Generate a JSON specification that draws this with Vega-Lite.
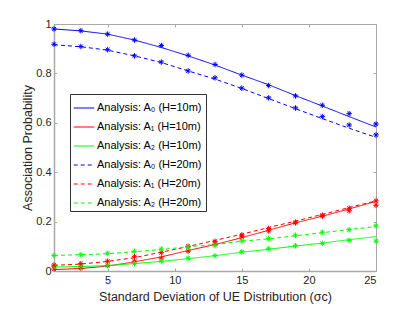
{
  "$schema": "https://vega.github.io/schema/vega-lite/v6.json",
  "autosize": {"type": "none"},
  "width": 322,
  "height": 247,
  "padding": {"left": 54, "top": 24, "right": 39, "bottom": 41},
  "background": "white",
  "config": {
    "view": {"stroke": "#a8a8a8", "strokeWidth": 1},
    "font": "Liberation Sans",
    "axis": {
      "grid": false,
      "domainColor": "#a8a8a8",
      "domainWidth": 1.5,
      "tickColor": "#a8a8a8",
      "tickSize": -3,
      "labelPadding": 6,
      "labelFont": "Liberation Sans",
      "labelFontSize": 11,
      "labelColor": "#262626",
      "titleFont": "Liberation Sans",
      "titleFontSize": 12.5,
      "titleFontWeight": "normal",
      "titleColor": "#262626"
    },
    "legend": {
      "orient": "none",
      "legendX": 16,
      "legendY": 70,
      "fillColor": "white",
      "strokeColor": "#333333",
      "padding": 3,
      "symbolType": "stroke",
      "symbolSize": 420,
      "symbolStrokeWidth": 1.2,
      "rowPadding": 3,
      "labelFont": "Liberation Sans",
      "labelFontSize": 11,
      "labelColor": "#000000",
      "labelOffset": 2
    }
  },
  "datasets": {
    "lines": [
      {"x": 1, "s": "Analysis: A₀ (H=10m)", "p": 0.980},
      {"x": 3, "s": "Analysis: A₀ (H=10m)", "p": 0.972},
      {"x": 5, "s": "Analysis: A₀ (H=10m)", "p": 0.959},
      {"x": 7, "s": "Analysis: A₀ (H=10m)", "p": 0.935},
      {"x": 9, "s": "Analysis: A₀ (H=10m)", "p": 0.905},
      {"x": 11, "s": "Analysis: A₀ (H=10m)", "p": 0.871},
      {"x": 13, "s": "Analysis: A₀ (H=10m)", "p": 0.834},
      {"x": 15, "s": "Analysis: A₀ (H=10m)", "p": 0.793},
      {"x": 17, "s": "Analysis: A₀ (H=10m)", "p": 0.754},
      {"x": 19, "s": "Analysis: A₀ (H=10m)", "p": 0.710},
      {"x": 21, "s": "Analysis: A₀ (H=10m)", "p": 0.668},
      {"x": 23, "s": "Analysis: A₀ (H=10m)", "p": 0.625},
      {"x": 25, "s": "Analysis: A₀ (H=10m)", "p": 0.583},
      {"x": 1, "s": "Analysis: A₁ (H=10m)", "p": 0.006},
      {"x": 3, "s": "Analysis: A₁ (H=10m)", "p": 0.010},
      {"x": 5, "s": "Analysis: A₁ (H=10m)", "p": 0.020},
      {"x": 7, "s": "Analysis: A₁ (H=10m)", "p": 0.037},
      {"x": 9, "s": "Analysis: A₁ (H=10m)", "p": 0.057},
      {"x": 11, "s": "Analysis: A₁ (H=10m)", "p": 0.083},
      {"x": 13, "s": "Analysis: A₁ (H=10m)", "p": 0.107},
      {"x": 15, "s": "Analysis: A₁ (H=10m)", "p": 0.135},
      {"x": 17, "s": "Analysis: A₁ (H=10m)", "p": 0.165},
      {"x": 19, "s": "Analysis: A₁ (H=10m)", "p": 0.195},
      {"x": 21, "s": "Analysis: A₁ (H=10m)", "p": 0.222},
      {"x": 23, "s": "Analysis: A₁ (H=10m)", "p": 0.251},
      {"x": 25, "s": "Analysis: A₁ (H=10m)", "p": 0.282},
      {"x": 1, "s": "Analysis: A₂ (H=10m)", "p": 0.016},
      {"x": 3, "s": "Analysis: A₂ (H=10m)", "p": 0.018},
      {"x": 5, "s": "Analysis: A₂ (H=10m)", "p": 0.022},
      {"x": 7, "s": "Analysis: A₂ (H=10m)", "p": 0.030},
      {"x": 9, "s": "Analysis: A₂ (H=10m)", "p": 0.039},
      {"x": 11, "s": "Analysis: A₂ (H=10m)", "p": 0.050},
      {"x": 13, "s": "Analysis: A₂ (H=10m)", "p": 0.062},
      {"x": 15, "s": "Analysis: A₂ (H=10m)", "p": 0.076},
      {"x": 17, "s": "Analysis: A₂ (H=10m)", "p": 0.088},
      {"x": 19, "s": "Analysis: A₂ (H=10m)", "p": 0.101},
      {"x": 21, "s": "Analysis: A₂ (H=10m)", "p": 0.113},
      {"x": 23, "s": "Analysis: A₂ (H=10m)", "p": 0.127},
      {"x": 25, "s": "Analysis: A₂ (H=10m)", "p": 0.139},
      {"x": 1, "s": "Analysis: A₀ (H=20m)", "p": 0.916},
      {"x": 3, "s": "Analysis: A₀ (H=20m)", "p": 0.908},
      {"x": 5, "s": "Analysis: A₀ (H=20m)", "p": 0.894},
      {"x": 7, "s": "Analysis: A₀ (H=20m)", "p": 0.871},
      {"x": 9, "s": "Analysis: A₀ (H=20m)", "p": 0.844},
      {"x": 11, "s": "Analysis: A₀ (H=20m)", "p": 0.810},
      {"x": 13, "s": "Analysis: A₀ (H=20m)", "p": 0.777},
      {"x": 15, "s": "Analysis: A₀ (H=20m)", "p": 0.739},
      {"x": 17, "s": "Analysis: A₀ (H=20m)", "p": 0.698},
      {"x": 19, "s": "Analysis: A₀ (H=20m)", "p": 0.657},
      {"x": 21, "s": "Analysis: A₀ (H=20m)", "p": 0.617},
      {"x": 23, "s": "Analysis: A₀ (H=20m)", "p": 0.578},
      {"x": 25, "s": "Analysis: A₀ (H=20m)", "p": 0.541},
      {"x": 1, "s": "Analysis: A₁ (H=20m)", "p": 0.023},
      {"x": 3, "s": "Analysis: A₁ (H=20m)", "p": 0.028},
      {"x": 5, "s": "Analysis: A₁ (H=20m)", "p": 0.039},
      {"x": 7, "s": "Analysis: A₁ (H=20m)", "p": 0.054},
      {"x": 9, "s": "Analysis: A₁ (H=20m)", "p": 0.076},
      {"x": 11, "s": "Analysis: A₁ (H=20m)", "p": 0.099},
      {"x": 13, "s": "Analysis: A₁ (H=20m)", "p": 0.124},
      {"x": 15, "s": "Analysis: A₁ (H=20m)", "p": 0.149},
      {"x": 17, "s": "Analysis: A₁ (H=20m)", "p": 0.176},
      {"x": 19, "s": "Analysis: A₁ (H=20m)", "p": 0.202},
      {"x": 21, "s": "Analysis: A₁ (H=20m)", "p": 0.229},
      {"x": 23, "s": "Analysis: A₁ (H=20m)", "p": 0.257},
      {"x": 25, "s": "Analysis: A₁ (H=20m)", "p": 0.284},
      {"x": 1, "s": "Analysis: A₂ (H=20m)", "p": 0.063},
      {"x": 3, "s": "Analysis: A₂ (H=20m)", "p": 0.066},
      {"x": 5, "s": "Analysis: A₂ (H=20m)", "p": 0.070},
      {"x": 7, "s": "Analysis: A₂ (H=20m)", "p": 0.078},
      {"x": 9, "s": "Analysis: A₂ (H=20m)", "p": 0.087},
      {"x": 11, "s": "Analysis: A₂ (H=20m)", "p": 0.098},
      {"x": 13, "s": "Analysis: A₂ (H=20m)", "p": 0.107},
      {"x": 15, "s": "Analysis: A₂ (H=20m)", "p": 0.121},
      {"x": 17, "s": "Analysis: A₂ (H=20m)", "p": 0.130},
      {"x": 19, "s": "Analysis: A₂ (H=20m)", "p": 0.143},
      {"x": 21, "s": "Analysis: A₂ (H=20m)", "p": 0.155},
      {"x": 23, "s": "Analysis: A₂ (H=20m)", "p": 0.168},
      {"x": 25, "s": "Analysis: A₂ (H=20m)", "p": 0.180}
    ],
    "sim": [
      {"x": 1, "s": "Analysis: A₀ (H=10m)", "p": 0.980},
      {"x": 3, "s": "Analysis: A₀ (H=10m)", "p": 0.973},
      {"x": 5, "s": "Analysis: A₀ (H=10m)", "p": 0.959},
      {"x": 7, "s": "Analysis: A₀ (H=10m)", "p": 0.935},
      {"x": 9, "s": "Analysis: A₀ (H=10m)", "p": 0.913},
      {"x": 11, "s": "Analysis: A₀ (H=10m)", "p": 0.873},
      {"x": 13, "s": "Analysis: A₀ (H=10m)", "p": 0.836},
      {"x": 15, "s": "Analysis: A₀ (H=10m)", "p": 0.793},
      {"x": 17, "s": "Analysis: A₀ (H=10m)", "p": 0.751},
      {"x": 19, "s": "Analysis: A₀ (H=10m)", "p": 0.709},
      {"x": 21, "s": "Analysis: A₀ (H=10m)", "p": 0.671},
      {"x": 23, "s": "Analysis: A₀ (H=10m)", "p": 0.637},
      {"x": 25, "s": "Analysis: A₀ (H=10m)", "p": 0.595},
      {"x": 1, "s": "Analysis: A₁ (H=10m)", "p": 0.008},
      {"x": 3, "s": "Analysis: A₁ (H=10m)", "p": 0.012},
      {"x": 5, "s": "Analysis: A₁ (H=10m)", "p": 0.022},
      {"x": 7, "s": "Analysis: A₁ (H=10m)", "p": 0.040},
      {"x": 9, "s": "Analysis: A₁ (H=10m)", "p": 0.052},
      {"x": 11, "s": "Analysis: A₁ (H=10m)", "p": 0.080},
      {"x": 13, "s": "Analysis: A₁ (H=10m)", "p": 0.108},
      {"x": 15, "s": "Analysis: A₁ (H=10m)", "p": 0.138},
      {"x": 17, "s": "Analysis: A₁ (H=10m)", "p": 0.162},
      {"x": 19, "s": "Analysis: A₁ (H=10m)", "p": 0.195},
      {"x": 21, "s": "Analysis: A₁ (H=10m)", "p": 0.222},
      {"x": 23, "s": "Analysis: A₁ (H=10m)", "p": 0.244},
      {"x": 25, "s": "Analysis: A₁ (H=10m)", "p": 0.266},
      {"x": 1, "s": "Analysis: A₂ (H=10m)", "p": 0.018},
      {"x": 3, "s": "Analysis: A₂ (H=10m)", "p": 0.020},
      {"x": 5, "s": "Analysis: A₂ (H=10m)", "p": 0.024},
      {"x": 7, "s": "Analysis: A₂ (H=10m)", "p": 0.030},
      {"x": 9, "s": "Analysis: A₂ (H=10m)", "p": 0.040},
      {"x": 11, "s": "Analysis: A₂ (H=10m)", "p": 0.052},
      {"x": 13, "s": "Analysis: A₂ (H=10m)", "p": 0.062},
      {"x": 15, "s": "Analysis: A₂ (H=10m)", "p": 0.078},
      {"x": 17, "s": "Analysis: A₂ (H=10m)", "p": 0.090},
      {"x": 19, "s": "Analysis: A₂ (H=10m)", "p": 0.102},
      {"x": 21, "s": "Analysis: A₂ (H=10m)", "p": 0.112},
      {"x": 23, "s": "Analysis: A₂ (H=10m)", "p": 0.124},
      {"x": 25, "s": "Analysis: A₂ (H=10m)", "p": 0.121},
      {"x": 1, "s": "Analysis: A₀ (H=20m)", "p": 0.918},
      {"x": 3, "s": "Analysis: A₀ (H=20m)", "p": 0.909},
      {"x": 5, "s": "Analysis: A₀ (H=20m)", "p": 0.896},
      {"x": 7, "s": "Analysis: A₀ (H=20m)", "p": 0.871},
      {"x": 9, "s": "Analysis: A₀ (H=20m)", "p": 0.846},
      {"x": 11, "s": "Analysis: A₀ (H=20m)", "p": 0.810},
      {"x": 13, "s": "Analysis: A₀ (H=20m)", "p": 0.782},
      {"x": 15, "s": "Analysis: A₀ (H=20m)", "p": 0.740},
      {"x": 17, "s": "Analysis: A₀ (H=20m)", "p": 0.701},
      {"x": 19, "s": "Analysis: A₀ (H=20m)", "p": 0.660},
      {"x": 21, "s": "Analysis: A₀ (H=20m)", "p": 0.625},
      {"x": 23, "s": "Analysis: A₀ (H=20m)", "p": 0.591},
      {"x": 25, "s": "Analysis: A₀ (H=20m)", "p": 0.551},
      {"x": 1, "s": "Analysis: A₁ (H=20m)", "p": 0.024},
      {"x": 3, "s": "Analysis: A₁ (H=20m)", "p": 0.030},
      {"x": 5, "s": "Analysis: A₁ (H=20m)", "p": 0.040},
      {"x": 7, "s": "Analysis: A₁ (H=20m)", "p": 0.058},
      {"x": 9, "s": "Analysis: A₁ (H=20m)", "p": 0.074},
      {"x": 11, "s": "Analysis: A₁ (H=20m)", "p": 0.100},
      {"x": 13, "s": "Analysis: A₁ (H=20m)", "p": 0.120},
      {"x": 15, "s": "Analysis: A₁ (H=20m)", "p": 0.146},
      {"x": 17, "s": "Analysis: A₁ (H=20m)", "p": 0.172},
      {"x": 19, "s": "Analysis: A₁ (H=20m)", "p": 0.198},
      {"x": 21, "s": "Analysis: A₁ (H=20m)", "p": 0.226},
      {"x": 23, "s": "Analysis: A₁ (H=20m)", "p": 0.254},
      {"x": 25, "s": "Analysis: A₁ (H=20m)", "p": 0.284},
      {"x": 1, "s": "Analysis: A₂ (H=20m)", "p": 0.063},
      {"x": 3, "s": "Analysis: A₂ (H=20m)", "p": 0.066},
      {"x": 5, "s": "Analysis: A₂ (H=20m)", "p": 0.072},
      {"x": 7, "s": "Analysis: A₂ (H=20m)", "p": 0.080},
      {"x": 9, "s": "Analysis: A₂ (H=20m)", "p": 0.089},
      {"x": 11, "s": "Analysis: A₂ (H=20m)", "p": 0.097},
      {"x": 13, "s": "Analysis: A₂ (H=20m)", "p": 0.103},
      {"x": 15, "s": "Analysis: A₂ (H=20m)", "p": 0.122},
      {"x": 17, "s": "Analysis: A₂ (H=20m)", "p": 0.132},
      {"x": 19, "s": "Analysis: A₂ (H=20m)", "p": 0.145},
      {"x": 21, "s": "Analysis: A₂ (H=20m)", "p": 0.157},
      {"x": 23, "s": "Analysis: A₂ (H=20m)", "p": 0.167},
      {"x": 25, "s": "Analysis: A₂ (H=20m)", "p": 0.183}
    ]
  },
  "layer": [
    {
      "data": {"name": "lines"},
      "mark": {"type": "line", "strokeWidth": 1, "clip": true},
      "encoding": {
        "x": {
          "field": "x", "type": "quantitative",
          "scale": {"domain": [1, 25], "nice": false, "zero": false},
          "axis": {"values": [5, 10, 15, 20, 25], "title": "Standard Deviation of UE Distribution (σc)", "titlePadding": 5}
        },
        "y": {
          "field": "p", "type": "quantitative",
          "scale": {"domain": [0, 1], "nice": false},
          "axis": {"values": [0, 0.2, 0.4, 0.6, 0.8, 1], "format": "~g", "title": "Association Probability", "titlePadding": 1}
        },
        "color": {
          "field": "s", "type": "nominal", "sort": null,
          "scale": {
            "domain": ["Analysis: A₀ (H=10m)", "Analysis: A₁ (H=10m)", "Analysis: A₂ (H=10m)", "Analysis: A₀ (H=20m)", "Analysis: A₁ (H=20m)", "Analysis: A₂ (H=20m)"],
            "range": ["#0000ff", "#ff0000", "#00ff00", "#0000ff", "#ff0000", "#00ff00"]
          },
          "legend": {"title": null}
        },
        "strokeDash": {
          "field": "s", "type": "nominal", "sort": null,
          "scale": {
            "domain": ["Analysis: A₀ (H=10m)", "Analysis: A₁ (H=10m)", "Analysis: A₂ (H=10m)", "Analysis: A₀ (H=20m)", "Analysis: A₁ (H=20m)", "Analysis: A₂ (H=20m)"],
            "range": [[1, 0], [1, 0], [1, 0], [4, 3], [4, 3], [4, 3]]
          },
          "legend": {"title": null}
        }
      }
    },
    {
      "data": {"name": "sim"},
      "mark": {
        "type": "point",
        "shape": "M-1,0L1,0M0,-1L0,1M-0.7,-0.7L0.7,0.7M-0.7,0.7L0.7,-0.7",
        "filled": false,
        "strokeWidth": 1,
        "size": 30,
        "opacity": 1,
        "clip": false
      },
      "encoding": {
        "x": {
          "field": "x", "type": "quantitative",
          "axis": {"orient": "top", "values": [5, 10, 15, 20, 25], "labels": false, "title": null, "domain": false}
        },
        "y": {
          "field": "p", "type": "quantitative",
          "axis": {"orient": "right", "values": [0, 0.2, 0.4, 0.6, 0.8, 1], "labels": false, "title": null, "domain": false}
        },
        "color": {"field": "s", "type": "nominal", "legend": null}
      }
    }
  ],
  "resolve": {"axis": {"x": "independent", "y": "independent"}}
}
